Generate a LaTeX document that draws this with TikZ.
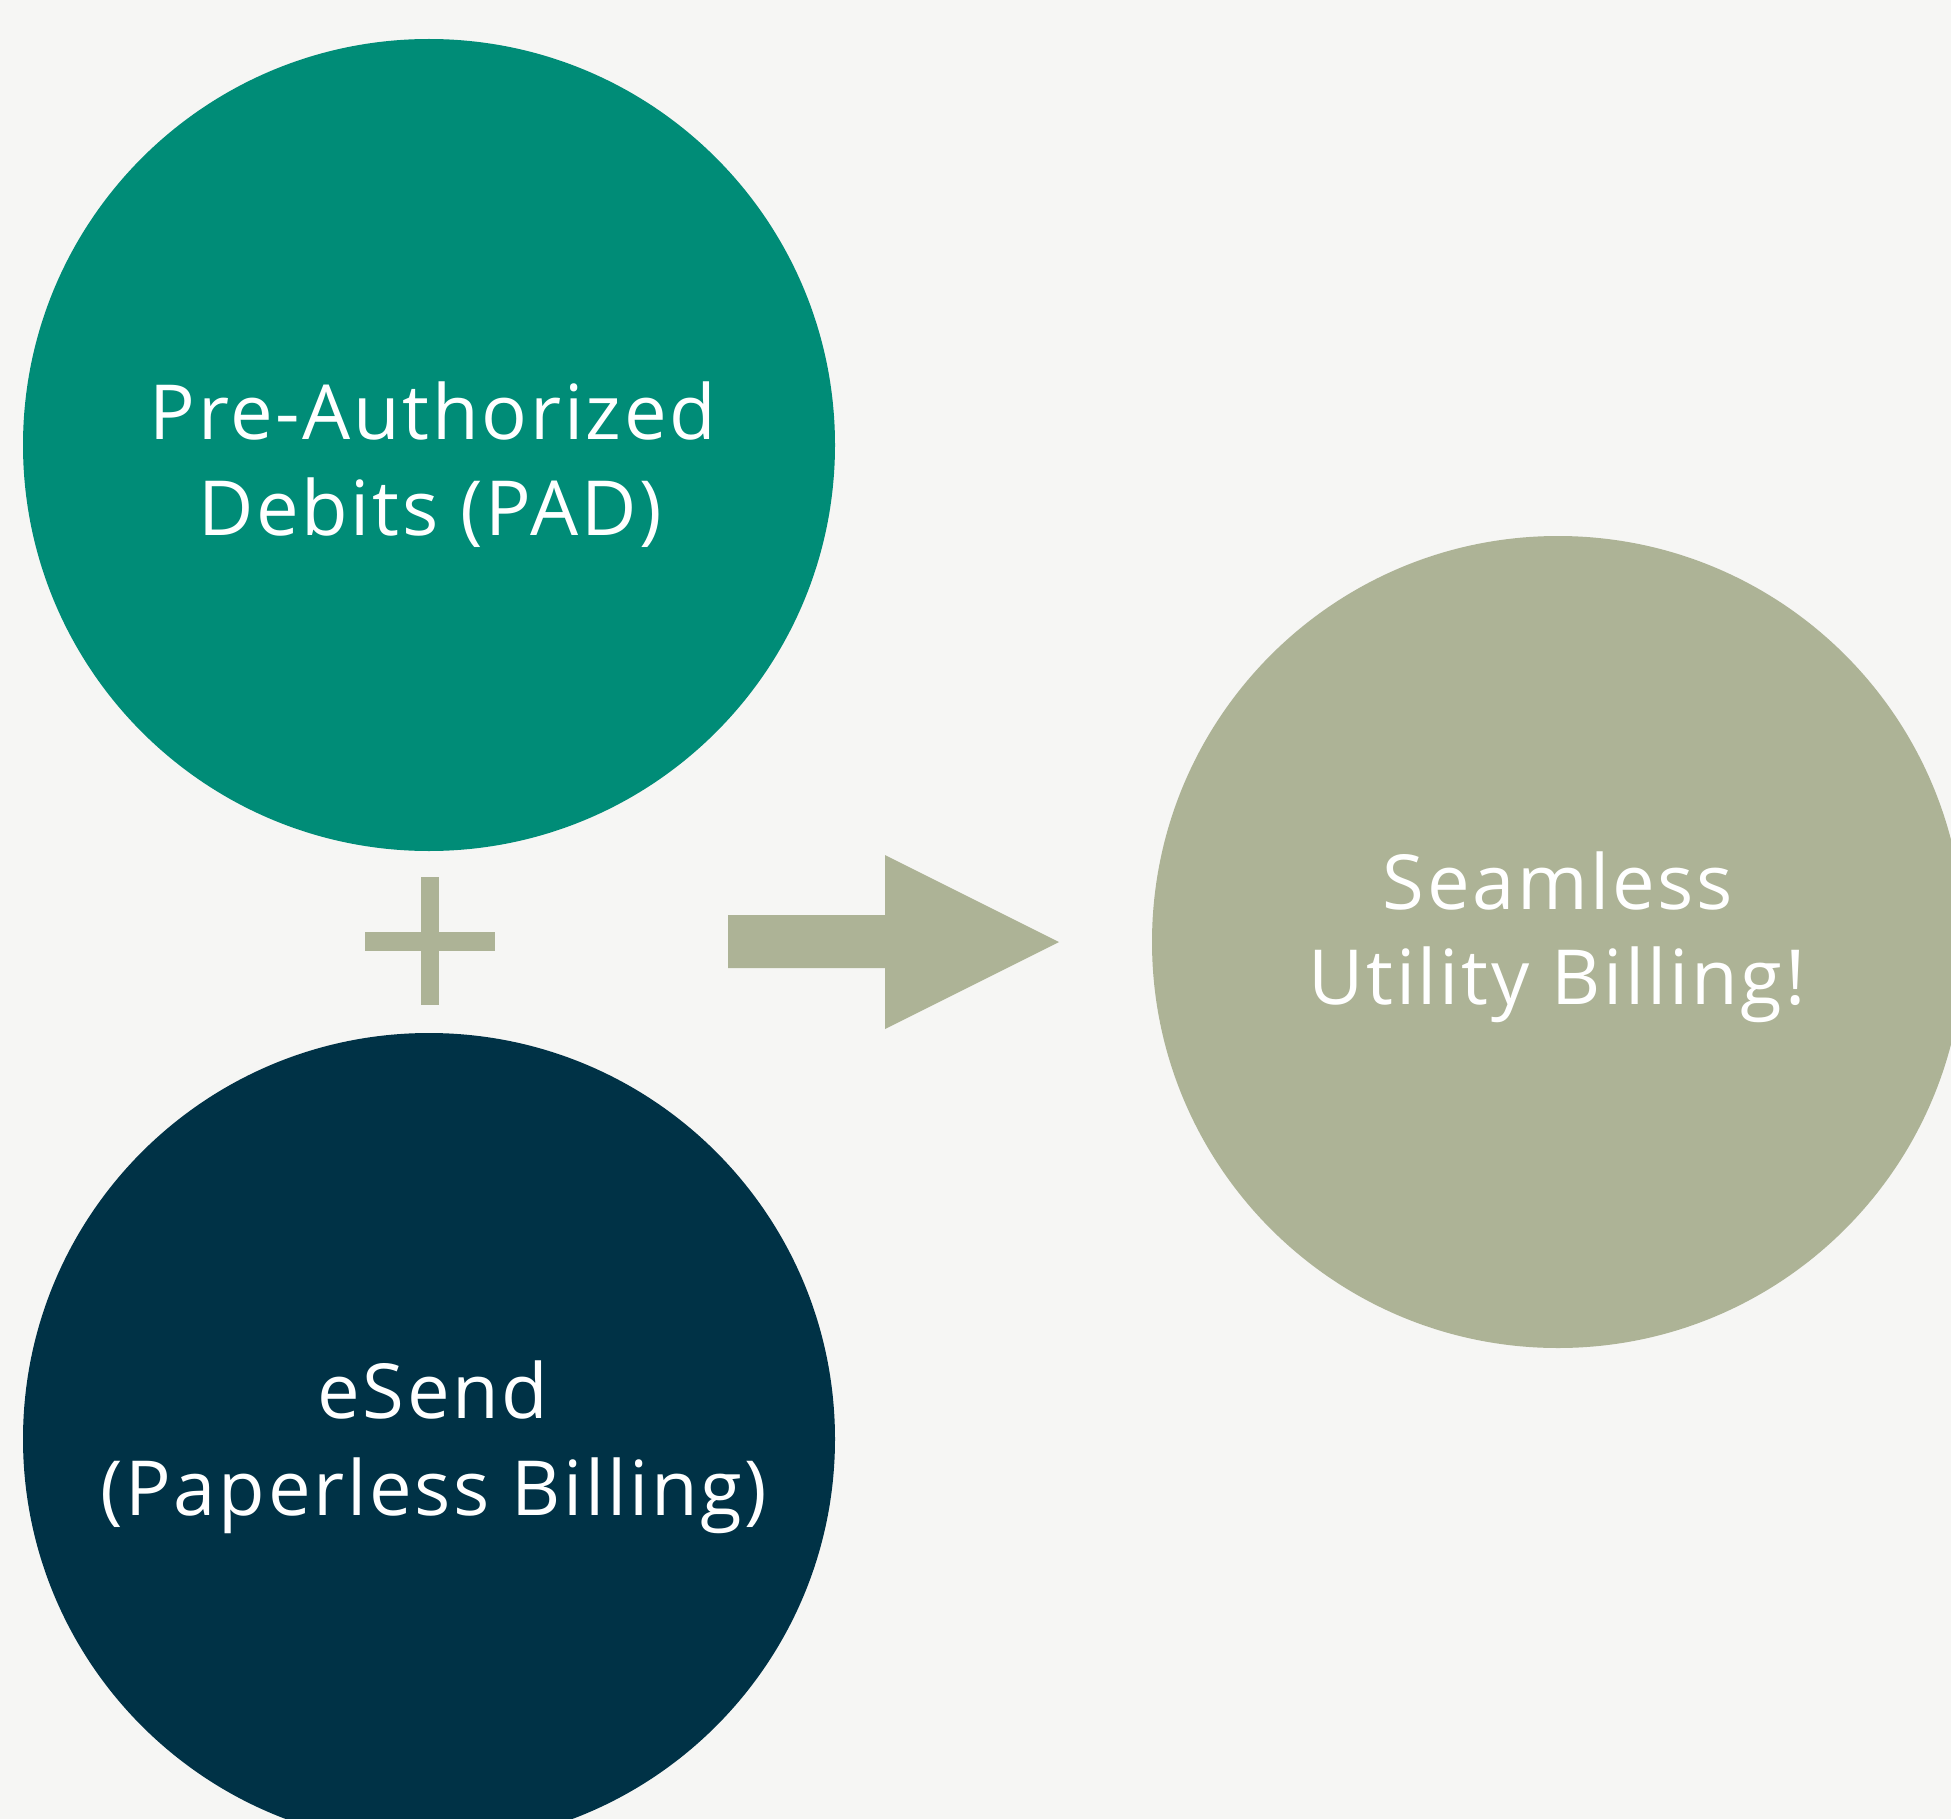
\documentclass[tikz,border=0pt]{standalone}
\usepackage{fontspec}
\setmainfont[Ligatures={NoCommon},LetterSpace=3.5]{Open Sans}
\definecolor{bgc}{HTML}{F6F6F4}
\definecolor{tealc}{HTML}{008C77}
\definecolor{navyc}{HTML}{003246}
\definecolor{sagec}{HTML}{ADB396}
\begin{document}
\begin{tikzpicture}[x=1pt,y=-1pt,
  bubble/.style={circle,minimum size=812pt,inner sep=0pt,draw=none},
  lbl/.style={text=white,anchor=base,inner sep=0pt,font=\fontsize{76}{96}\selectfont}]
\useasboundingbox (0,0) rectangle (1951,1819);
\clip (0,0) rectangle (1951,1819);
\fill[bgc] (0,0) rectangle (1951,1819);
\node[bubble,fill=tealc] (pad) at (429,445) {};
\node[bubble,fill=navyc] (esend) at (429,1439) {};
\node[bubble,fill=sagec] (seam) at (1558,942) {};
% plus sign
\fill[sagec] (421,877) rectangle (439,1005);
\fill[sagec] (365,932) rectangle (495,951);
% block arrow
\coordinate (a1) at (728,915);
\coordinate (tip) at (1059,942);
\fill[sagec] (a1) -- (885,915) -- (885,855) -- (tip) -- (885,1029) -- (885,968) -- (728,968) -- cycle;
% texts
\node[lbl] (pad1) at (433,439) {Pre-Authorized};
\node[lbl] (pad2) at (430,535) {Debits (PAD)};
\node[lbl] (es1) at (433,1418) {eSend};
\node[lbl] (es2) at (434,1515) {(Paperless Billing)};
\node[lbl] (se1) at (1558,909) {Seamless};
\node[lbl] (se2) at (1557,1004) {Utility Billing!};
\end{tikzpicture}
\end{document}
